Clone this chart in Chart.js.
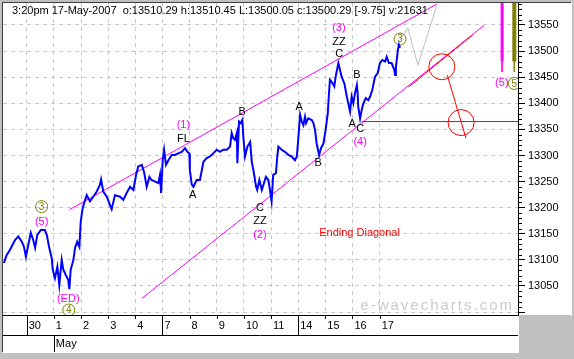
<!DOCTYPE html>
<html><head><meta charset="utf-8">
<script src="https://cdn.jsdelivr.net/npm/chart.js@4.4.1/dist/chart.umd.min.js"></script>
<style>html,body{margin:0;padding:0;background:#c0c0c0;}canvas{display:block;}</style>
</head><body>
<canvas id="c" width="574" height="359"></canvas>
<script>
// ---------- data ----------
const TITLE = '3:20pm 17-May-2007  o:13510.29 h:13510.45 L:13500.05 c:13500.29 [-9.75] v:21631';
const WATERMARK = 'e-wavecharts.com';

// trading-day index (0 = 30 Apr)
const dayTicks = [0,1,2,3,4,5,6,7,8,9,10,11,12,13];
const dayLabels = ['30','1','2','3','4','7','8','9','10','11','14','15','16','17'];
const weekStarts = [0,5,10];
const monthTicks = [1];
const monthLabels = ['May'];
const priceTicks = [13000,13050,13100,13150,13200,13250,13300,13350,13400,13450,13500,13550];
const priceLabels = ['','13050','13100','13150','13200','13250','13300','13350','13400','13450','13500','13550'];
const X_MIN = -0.873, X_MAX = 18.096, Y_MIN = 12994.4, Y_MAX = 13592.1;

// Dow intraday (blue)
const priceT = [-0.84,-0.74,-0.62,-0.43,-0.31,-0.18,-0.10,-0.03,0.02,0.15,
 0.24,0.31,0.39,0.52,0.67,0.74,0.83,0.92,0.96,1.04,
 1.13,1.20,1.29,1.35,1.44,1.53,1.57,1.62,1.72,1.78,
 1.86,1.94,1.99,2.05,2.11,2.21,2.33,2.45,2.58,2.70,
 2.74,2.82,2.95,3.09,3.13,3.25,3.44,3.56,3.68,3.81,
 3.93,4.03,4.11,4.24,4.32,4.42,4.52,4.60,4.73,4.85,
 4.91,4.95,5.01,5.06,5.13,5.22,5.34,5.46,5.58,5.71,
 5.83,5.92,5.99,6.01,6.08,6.14,6.26,6.38,6.51,6.63,
 6.75,6.87,7.00,7.12,7.24,7.37,7.49,7.55,7.61,7.67,
 7.74,7.76,7.82,7.88,7.94,7.98,8.04,8.13,8.23,8.29,
 8.35,8.45,8.49,8.57,8.66,8.72,8.81,8.90,8.96,9.02,
 9.08,9.18,9.23,9.27,9.39,9.51,9.64,9.76,9.88,9.95,
 10.00,10.07,10.13,10.19,10.25,10.29,10.37,10.50,10.56,10.62,
 10.68,10.77,10.84,10.93,11.01,11.09,11.13,11.17,11.23,11.33,
 11.38,11.48,11.54,11.60,11.70,11.79,11.87,11.91,11.97,12.03,
 12.09,12.16,12.19,12.21,12.28,12.34,12.40,12.49,12.58,12.65,
 12.73,12.83,12.93,13.01,13.10,13.20,13.26,13.34,13.44,13.54,
 13.57,13.60,13.63,13.67,13.71,13.75];
const priceP = [13094,13109,13119,13138,13145,13135,13125,13106,13119,13152,
 13138,13123,13148,13157,13157,13148,13123,13104,13081,13065,
 13087,13052,13100,13081,13071,13062,13044,13081,13100,13123,
 13135,13125,13173,13196,13208,13224,13212,13221,13231,13244,
 13254,13231,13221,13202,13197,13224,13221,13215,13228,13240,
 13234,13263,13279,13282,13269,13240,13259,13253,13250,13247,
 13263,13228,13291,13311,13282,13291,13301,13301,13304,13307,
 13314,13307,13304,13272,13244,13240,13253,13253,13288,13295,
 13298,13304,13311,13307,13311,13311,13317,13343,13333,13330,
 13343,13285,13365,13362,13368,13336,13298,13317,13326,13288,
 13272,13240,13234,13253,13234,13244,13259,13253,13234,13212,
 13263,13266,13298,13317,13311,13307,13301,13298,13291,13298,
 13330,13378,13365,13358,13374,13362,13371,13368,13362,13349,
 13323,13301,13314,13323,13349,13381,13416,13445,13441,13432,
 13451,13477,13464,13451,13438,13413,13394,13384,13413,13400,
 13419,13435,13419,13394,13371,13387,13400,13410,13406,13413,
 13426,13451,13458,13477,13483,13480,13489,13477,13477,13464,
 13454,13470,13483,13502,13512,13506];

// trend / projection lines
const upperLineT = [1.57, 15.10],  upperLineP = [13196, 13590];
const lowerLineT = [4.24, 16.84],  lowerLineP = [13026, 13549];
const redParallelT = [14.06, 16.43], redParallelP = [13431, 13531];
const redDropT = [15.49, 16.18],   redDropP = [13454, 13333];
const redLevelT = [12.34, 18.10],  redLevelP = [13365, 13365];
const grayPathT = [13.75, 14.04, 14.41, 15.11], grayPathP = [13521, 13544, 13473, 13588];
const redCircleT = [15.29, 16.00], redCircleP = [13470, 13363];
const targetT = [17.51, 17.96];
const targetTopP = 13600, targetMidP = 13480, targetBotP = 13460;

// wave labels
const labelTexts = ['(5)','(ED)','(1)','FL','A','B','C','ZZ','(2)','A','B','(3)','ZZ','C','B','A','C','(4)','(5)','Ending Diagonal'];
const labelT = [0.55,1.53,5.77,5.77,6.11,7.94,8.59,8.59,8.59,10.04,10.74,11.50,11.50,11.51,12.16,11.99,12.28,12.28,17.50,12.26];
const labelP = [13173,13026,13358,13331,13224,13383,13199,13175,13147,13392,13285,13544,13518,13495,13454,13360,13350,13325,13438,13151];
const labelKinds = ['wave','wave','wave','letter','letter','letter','letter','letter','wave','letter','letter','wave','letter','letter','letter','letter','letter','wave','wave','note'];
const circT = [0.55, 1.55, 13.75, 17.96];
const circP = [13202, 13004, 13523, 13438];
const circText = ['3','4','3','5'];

// ---------- styles ----------
const FONT = '"Liberation Sans", Arial, sans-serif';
const KIND_COLOR = {wave:'#ff00ff', letter:'#000000', note:'#ff0000'};
const OLIVE = '#808000';
const pts = (T,P) => T.map((t,i)=>({x:t, y:P[i]}));
const seg = (T,P,color,w,extra) => Object.assign({data:pts(T,P), borderColor:color, borderWidth:w, pointRadius:0, tension:0, fill:false}, extra||{});

const datasets = [
  seg(priceT, priceP, '#0000ff', 2),
  seg(circT, circP, OLIVE, 1, {showLine:false, pointRadius:6, pointBorderColor:OLIVE, pointBackgroundColor:'rgba(0,0,0,0)', pointBorderWidth:1}),
  seg(redCircleT, redCircleP, '#ff0000', 1, {showLine:false, pointRadius:13, pointBorderColor:'#ff0000', pointBackgroundColor:'rgba(0,0,0,0)', pointBorderWidth:1}),
  seg(redParallelT, redParallelP, '#ff0000', 1),
  seg(redDropT, redDropP, '#ff0000', 1),
  seg(redLevelT, redLevelP, '#ff0000', 1),
  seg(upperLineT, upperLineP, '#ff00ff', 1),
  seg(lowerLineT, lowerLineP, '#ff00ff', 1),
  seg(grayPathT, grayPathP, '#c0c0c0', 1),
  seg([targetT[0],targetT[0]], [targetTopP,targetMidP], '#ff00ff', 3),
  seg([targetT[0],targetT[0]], [targetMidP,targetBotP], '#ff00ff', 1),
  seg([targetT[1],targetT[1]], [targetTopP,targetMidP], OLIVE, 4),
  seg([targetT[1],targetT[1]], [targetMidP,targetBotP], OLIVE, 1)
];

function hline(ctx,x1,x2,y){ctx.beginPath();ctx.moveTo(x1,Math.round(y)+0.5);ctx.lineTo(x2,Math.round(y)+0.5);ctx.stroke();}
function vline(ctx,x,y1,y2){ctx.beginPath();ctx.moveTo(Math.round(x)+0.5,y1);ctx.lineTo(Math.round(x)+0.5,y2);ctx.stroke();}

const framePlugin = {
  id:'frame',
  beforeDraw(chart){
    const {ctx, chartArea:a, scales} = chart;
    ctx.save();
    ctx.fillStyle = '#c0c0c0'; ctx.fillRect(0,0,chart.width,chart.height);
    ctx.fillStyle = '#ffffff';
    ctx.fillRect(a.left, a.top, scales.y.right - a.left, a.bottom - a.top);
    ctx.fillRect(a.left, a.bottom, a.right - a.left, scales.x2.bottom - a.bottom);
    ctx.restore();
  },
  beforeDatasetsDraw(chart){
    const {ctx, chartArea:a} = chart;
    ctx.save();
    ctx.font = '15px ' + FONT; ctx.fillStyle = '#cacaca';
    try { ctx.letterSpacing = '2px'; } catch(e) {}
    ctx.textAlign = 'right'; ctx.textBaseline = 'middle';
    ctx.fillText(WATERMARK, a.right - 4, a.bottom - 9);
    ctx.restore();
  },
  afterDatasetsDraw(chart){
    const {ctx, scales:{x,y}} = chart;
    ctx.save();
    ctx.textAlign = 'center'; ctx.textBaseline = 'middle';
    ctx.font = '11px ' + FONT;
    labelTexts.forEach((s,i)=>{
      ctx.fillStyle = KIND_COLOR[labelKinds[i]];
      ctx.fillText(s, x.getPixelForValue(labelT[i]), y.getPixelForValue(labelP[i]));
    });
    ctx.font = '10px ' + FONT; ctx.fillStyle = OLIVE;
    circText.forEach((s,i)=>{
      ctx.fillText(s, x.getPixelForValue(circT[i]), y.getPixelForValue(circP[i]) + 0.5);
    });
    ctx.restore();
  },
  afterDraw(chart){
    const {ctx, chartArea:a, scales:{x,y,x2}} = chart;
    ctx.save();
    ctx.lineWidth = 1;
    ctx.strokeStyle = '#404040';
    vline(ctx, a.left-1, a.top-1, x2.bottom);
    hline(ctx, a.left-1, y.right, a.top-1);
    ctx.strokeStyle = '#ffffff';
    vline(ctx, y.right, a.top-1, a.bottom+1);
    vline(ctx, a.right, a.bottom, x2.bottom+1);
    hline(ctx, a.left-1, a.right+1, x2.bottom);
    ctx.strokeStyle = '#000000';
    vline(ctx, a.right, a.top, a.bottom+1);
    hline(ctx, a.left, a.right, a.bottom);
    hline(ctx, a.left, a.right, x.bottom);
    dayTicks.forEach(t=>{
      const px = x.getPixelForValue(t);
      if (weekStarts.includes(t)) vline(ctx, px, a.bottom, x.bottom);
      else vline(ctx, px, a.bottom, a.bottom+4);
    });
    monthTicks.forEach(t=>vline(ctx, x2.getPixelForValue(t), x2.top, x2.bottom));
    for (let v = Math.ceil(Y_MIN/10)*10; v <= Y_MAX; v += 10) {
      if (v % 50 === 0) continue;
      hline(ctx, a.right, a.right+4, y.getPixelForValue(v));
    }
    ctx.font = '11px ' + FONT; ctx.fillStyle = '#000';
    ctx.textAlign = 'left'; ctx.textBaseline = 'middle';
    ctx.fillText(TITLE, 12, 11);
    ctx.restore();
  }
};

new Chart(document.getElementById('c'), {
  type:'line',
  data:{datasets},
  options:{
    responsive:false, animation:false, devicePixelRatio:1, events:[],
    layout:{autoPadding:false, padding:{left:3, top:3, right:3, bottom:7}},
    plugins:{legend:{display:false}, tooltip:{enabled:false}},
    scales:{
      x:{
        type:'linear', position:'bottom', weight:0, min:X_MIN, max:X_MAX,
        afterBuildTicks:s=>{ s.ticks = dayTicks.map(v=>({value:v})); },
        afterFit:s=>{ s.height = 20; s.paddingLeft = 0; s.paddingRight = 0; s.paddingTop = 0; s.paddingBottom = 0; },
        ticks:{autoSkip:false, maxRotation:0, minRotation:0, align:'start', labelOffset:2, padding:4,
               color:'#000', font:{family:FONT, size:11}, callback:(v,i)=>dayLabels[i]},
        grid:{drawTicks:false, color:'#c8c8c8', lineWidth:1},
        border:{display:false, dash:[4,4]}
      },
      x2:{
        type:'linear', position:'bottom', weight:1, min:X_MIN, max:X_MAX,
        afterBuildTicks:s=>{ s.ticks = monthTicks.map(v=>({value:v})); },
        afterFit:s=>{ s.height = 17; s.paddingLeft = 0; s.paddingRight = 0; s.paddingTop = 0; s.paddingBottom = 0; },
        ticks:{autoSkip:false, maxRotation:0, minRotation:0, align:'start', labelOffset:2, padding:2,
               color:'#000', font:{family:FONT, size:11}, callback:(v,i)=>monthLabels[i]},
        grid:{display:false, drawTicks:false},
        border:{display:false}
      },
      y:{
        type:'linear', position:'right', min:Y_MIN, max:Y_MAX,
        afterBuildTicks:s=>{ s.ticks = priceTicks.map(v=>({value:v})); },
        afterFit:s=>{ s.width = 53; s.paddingTop = 0; s.paddingBottom = 0; s.paddingLeft = 0; s.paddingRight = 0; },
        ticks:{padding:3, color:'#000', font:{family:FONT, size:11}, callback:(v,i)=>priceLabels[i]},
        grid:{color:'#c8c8c8', lineWidth:1, drawTicks:true, tickLength:7, tickColor:'#000', tickBorderDash:[]},
        border:{display:false, dash:[4,4]}
      }
    }
  },
  plugins:[framePlugin]
});
</script>
</body></html>
